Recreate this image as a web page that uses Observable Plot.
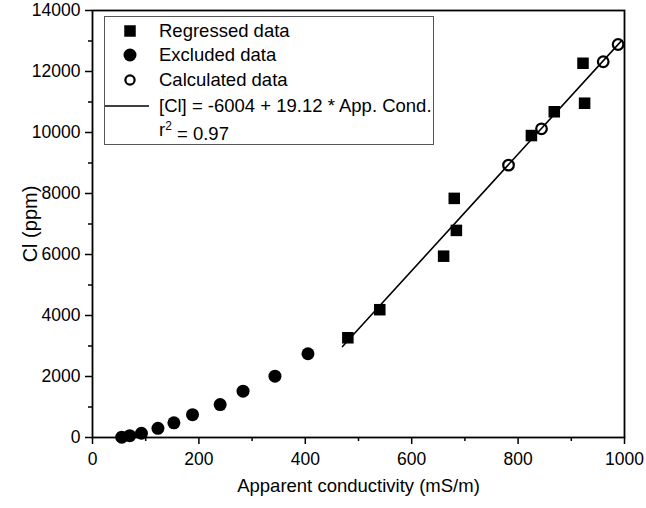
<!DOCTYPE html>
<html>
<head>
<meta charset="utf-8">
<script src="https://cdn.jsdelivr.net/npm/d3@7"></script>
<script src="https://cdn.jsdelivr.net/npm/@observablehq/plot@0.6"></script>
<style>
  html, body { margin: 0; padding: 0; background: #fff; }
  #wrap { position: relative; width: 646px; height: 508px; font-family: "Liberation Sans", Arial, sans-serif; }
  #legend { position: absolute; left: 104px; top: 16px; width: 330px; height: 129px; border: 1.5px solid #555; box-sizing: border-box; background: #fff; }
</style>
</head>
<body>
<div id="wrap"><div id="chart"></div><div id="legend"></div></div>
<script>
// Regressed data (filled squares)
const regX = [480, 540, 660, 680, 684, 825, 868, 922, 925];
const regY = [3270, 4190, 5945, 7840, 6790, 9900, 10680, 12270, 10960];
// Excluded data (filled circles)
const excX = [55, 70, 92, 123, 153, 188, 240, 283, 343, 405];
const excY = [10, 60, 140, 300, 480, 750, 1080, 1520, 2010, 2745];
// Calculated data (open circles)
const calcX = [782, 844, 960, 988];
const calcY = [8930, 10120, 12320, 12885];
// Regression line
const intercept = -6004;
const slope = 19.12;
const fitRange = [470, 995];
// Ticks
const xTicks = [0, 200, 400, 600, 800, 1000];
const xMinor = [100, 300, 500, 700, 900];
const yTicks = [0, 2000, 4000, 6000, 8000, 10000, 12000, 14000];
const yMinor = [1000, 3000, 5000, 7000, 9000, 11000, 13000];
const xLabel = "Apparent conductivity (mS/m)";
const yLabel = "Cl (ppm)";
const legendItems = ["Regressed data", "Excluded data", "Calculated data", "[Cl] = -6004 + 19.12 * App. Cond."];
const r2Text = "0.97";

const reg = regX.map((x, i) => ({x, y: regY[i]}));
const exc = excX.map((x, i) => ({x, y: excY[i]}));
const calc = calcX.map((x, i) => ({x, y: calcY[i]}));
const fit = fitRange.map(x => ({x, y: intercept + slope * x}));

const chart = Plot.plot({
  width: 646,
  height: 508,
  marginLeft: 92,
  marginRight: 22,
  marginTop: 10,
  marginBottom: 71,
  x: {domain: [0, 1000]},
  y: {domain: [0, 14000]},
  style: {fontFamily: "'Liberation Sans', Arial, sans-serif", fontSize: "17.5px", color: "black", background: "white"},
  marks: [
    Plot.axisX({ticks: xTicks, tickSize: 7, tickPadding: 8, strokeWidth: 1.5, tickFormat: d => String(d),
      label: xLabel, labelAnchor: "center", labelArrow: "none", labelOffset: 54, fontSize: 17.5}),
    Plot.axisX({ticks: xMinor, tickSize: 4, strokeWidth: 1.5, tickFormat: () => "", label: null}),
    Plot.axisY({ticks: yTicks, tickSize: 7, tickPadding: 5, strokeWidth: 1.5, tickFormat: d => String(d),
      label: yLabel, labelAnchor: "center", labelArrow: "none", labelOffset: 70, fontSize: 17.5}),
    Plot.axisY({ticks: yMinor, tickSize: 4, strokeWidth: 1.5, tickFormat: () => "", label: null}),
    Plot.line(fit, {x: "x", y: "y", stroke: "black", strokeWidth: 1.6}),
    Plot.dot(exc, {x: "x", y: "y", r: 6.5, fill: "black", stroke: "none"}),
    Plot.dot(reg, {x: "x", y: "y", r: 6.5, symbol: "square", fill: "black", stroke: "none"}),
    Plot.dot(calc, {x: "x", y: "y", r: 5.3, fill: "none", stroke: "black", strokeWidth: 2.2}),
    Plot.frame({stroke: "black", strokeWidth: 1.8})
  ]
});
document.getElementById("chart").appendChild(chart);
const svg = d3.select(chart);
svg.selectAll("text").style("font-size", "17.5px");
svg.selectAll("[aria-label='x-axis label'] text").style("font-size", "18.5px");
svg.selectAll("[aria-label='y-axis label'] text").style("font-size", "20px");

// Legend
const lg = d3.select("#legend").append("svg").attr("width", 328).attr("height", 127)
  .style("font-family", "'Liberation Sans', Arial, sans-serif").style("font-size", "18.5px");
const symX = 25, txtX = 54, rowY = [14, 38, 63, 89, 113];
lg.append("path").attr("d", d3.symbol(d3.symbolSquare, 11.5 * 11.5)()).attr("transform", `translate(${symX},${rowY[0]})`).attr("fill", "black");
lg.append("circle").attr("cx", symX).attr("cy", rowY[1]).attr("r", 6.5).attr("fill", "black");
lg.append("circle").attr("cx", symX).attr("cy", rowY[2]).attr("r", 4.6).attr("fill", "none").attr("stroke", "black").attr("stroke-width", 2.2);
lg.append("line").attr("x1", 0).attr("x2", 44).attr("y1", rowY[3]).attr("y2", rowY[3]).attr("stroke", "black").attr("stroke-width", 1.6);
legendItems.forEach((t, i) => {
  lg.append("text").attr("x", txtX).attr("y", rowY[i]).attr("dy", "0.35em").text(t);
});
const r2 = lg.append("text").attr("x", txtX).attr("y", rowY[4]).attr("dy", "0.35em");
r2.append("tspan").text("r");
r2.append("tspan").attr("font-size", "12px").attr("dy", "-0.55em").text("2");
r2.append("tspan").attr("dy", "0.55em").text(" = " + r2Text);
</script>
</body>
</html>
